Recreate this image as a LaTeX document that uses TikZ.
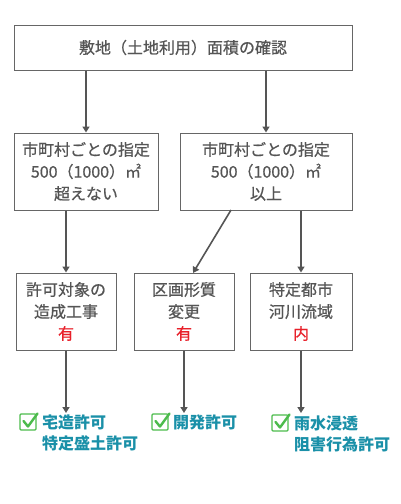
\documentclass[tikz,border=0pt]{standalone}
\usepackage{fontspec}
\setmainfont{Noto Sans CJK JP}
\newfontfamily\medfont[FakeBold=0.6]{Noto Sans CJK JP}
\usetikzlibrary{arrows.meta}
\definecolor{txtgray}{HTML}{555555}
\definecolor{boxgray}{HTML}{666666}
\definecolor{linegray}{HTML}{555555}
\definecolor{okred}{HTML}{E8202A}
\definecolor{teal}{HTML}{1A90A8}
\definecolor{chkgreen}{HTML}{4CBB4C}
\tikzset{
  box/.style={draw=boxgray, line width=1pt, fill=white, text=txtgray, align=center,
    font=\fontsize{16}{22}\selectfont\medfont, inner sep=0pt},
  conn/.style={draw=linegray, line width=1.6pt, -{Triangle[length=6pt,width=7pt]}},
  result/.style={text=teal, align=left, anchor=west, inner sep=0pt,
    font=\fontsize{16}{21}\selectfont\bfseries},
  chkbox/.style={draw=chkgreen, line width=1.4pt, rounded corners=1pt},
  chkmark/.style={draw=chkgreen, line width=2.4pt, line cap=round, line join=round},
}
\begin{document}
\begin{tikzpicture}[x=1pt,y=-1pt]
\useasboundingbox (0,0) rectangle (401,504);
\node[box, minimum width=338pt, minimum height=45pt] (top) at (183,47.5) {敷地（土地利用）面積の確認};
\node[box, minimum width=144pt, minimum height=77pt] (ml) at (86,171.5) {市町村ごとの指定\\500（1000）㎡\\超えない};
\node[box, minimum width=172pt, minimum height=77pt] (mr) at (266,171.5) {市町村ごとの指定\\500（1000）㎡\\以上};
\node[box, minimum width=100pt, minimum height=77pt] (b1) at (66,311.5) {許可対象の\\造成工事\\\textcolor{okred}{有}};
\node[box, minimum width=100pt, minimum height=77pt] (b2) at (184,311.5) {区画形質\\変更\\\textcolor{okred}{有}};
\node[box, minimum width=102pt, minimum height=77pt] (b3) at (301,311.5) {特定都市\\河川流域\\\textcolor{okred}{内}};

\coordinate (d1) at (66,413);
\coordinate (d2) at (184,413);
\coordinate (d3) at (301,413);
\coordinate (mrdiag) at (231,210);

\draw[conn] (top.south -| ml) -- (ml.north);
\draw[conn] (top.south -| mr) -- (mr.north);
\draw[conn] (ml.south -| b1) -- (b1.north);
\draw[conn] (mrdiag) -- (193,273);
\draw[conn] (mr.south -| b3) -- (b3.north);
\draw[conn] (b1.south) -- (d1);
\draw[conn] (b2.south) -- (d2);
\draw[conn] (b3.south) -- (d3);

% check boxes
\draw[chkbox] (20,414) rectangle (36,430);
\draw[chkmark] (23.5,421) -- (28,426.5) -- (37.5,413.5);
\draw[chkbox] (152,414) rectangle (168,430);
\draw[chkmark] (155.5,421) -- (160,426.5) -- (169.5,413.5);
\draw[chkbox] (272,415) rectangle (288,431);
\draw[chkmark] (275.5,422) -- (280,427.5) -- (289.5,414.5);

\node[result] (r1) at (42,432.5) {宅造許可\\特定盛土許可};
\node[result] (r2) at (173,422) {開発許可};
\node[result] (r3) at (294,433.5) {雨水浸透\\阻害行為許可};
\end{tikzpicture}
\end{document}
